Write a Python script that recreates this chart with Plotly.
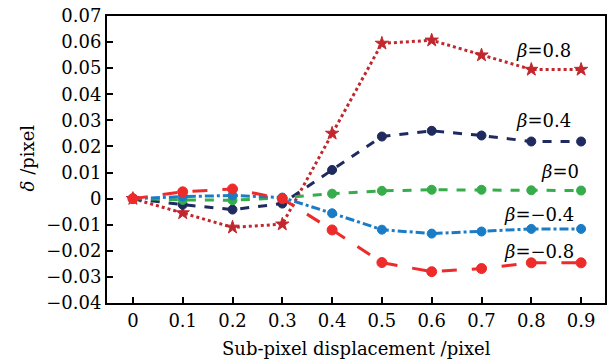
import plotly.graph_objects as go

x = [0, 0.1, 0.2, 0.3, 0.4, 0.5, 0.6, 0.7, 0.8, 0.9]
b_p08 = [0, -0.0055, -0.011, -0.0098, 0.025, 0.0595, 0.0607, 0.0550, 0.0495, 0.0495]
b_p04 = [0, -0.0023, -0.0042, -0.0019, 0.011, 0.0238, 0.0260, 0.0242, 0.0219, 0.0219]
b_0 = [0, -0.0005, -0.0006, 0.0003, 0.0019, 0.0030, 0.0034, 0.0034, 0.0032, 0.0031]
b_m04 = [0, 0.0008, 0.0012, 0.0004, -0.0056, -0.0119, -0.0134, -0.0126, -0.0116, -0.0116]
b_m08 = [0, 0.0026, 0.0037, 0.0000, -0.0120, -0.0245, -0.0280, -0.0268, -0.0246, -0.0246]

labels = ["β=0.8", "β=0.4", "β=0", "β=−0.4", "β=−0.8"]
label_pos = [(0.825, 0.0568), (0.825, 0.0298), (0.857, 0.0104), (0.815, -0.0062), (0.815, -0.0202)]

x_title = "Sub-pixel displacement /pixel"
y_title = "<i>δ</i> /pixel"

series = [
    (b_p08, "#c1272d", "dot", "star", 10),
    (b_p04, "#1f2a5e", "dash", "circle", 9),
    (b_0, "#35ad4b", "dash", "circle", 9),
    (b_m04, "#1b7cc6", "dashdot", "circle", 9),
    (b_m08, "#ee2b2b", "longdash", "circle", 10),
]

fig = go.Figure()
for (vals, col, dash, sym, ms), name in zip(series, labels):
    fig.add_trace(go.Scatter(
        x=x, y=vals, mode="lines+markers", name=name,
        line=dict(color=col, width=3, dash=dash),
        marker=dict(color=col, symbol=sym, size=ms, line=dict(color=col, width=1)),
        showlegend=False,
    ))

for name, (ax, ay) in zip(labels, label_pos):
    t = name.replace("β", "<i>β</i>")
    fig.add_annotation(x=ax, y=ay, text=t, showarrow=False,
                       font=dict(family="DejaVu Serif", size=18, color="black"))

# axis titles
fig.add_annotation(xref="paper", yref="paper", x=0.5, y=-0.157,
                   xanchor="center", yanchor="middle", text=x_title,
                   showarrow=False, font=dict(size=18))
fig.add_annotation(xref="paper", yref="paper", x=-0.16, y=0.505,
                   xanchor="center", yanchor="middle", text=y_title,
                   textangle=-90, showarrow=False, font=dict(size=18))

fig.update_layout(
    width=609, height=360,
    margin=dict(l=107, r=2, t=16, b=57),
    paper_bgcolor="white", plot_bgcolor="white",
    font=dict(family="DejaVu Serif", size=18, color="black"),
    xaxis=dict(
        range=[-0.052, 0.948], tickmode="array", tickvals=x,
        ticktext=[str(v) for v in x],
        ticks="inside", ticklen=6, tickwidth=2, tickcolor="black",
        showline=True, linecolor="black", linewidth=2, mirror=True,
        showgrid=False, zeroline=False,
    ),
    yaxis=dict(
        range=[-0.04, 0.07], dtick=0.01, tick0=0,
        ticks="inside", ticklen=6, tickwidth=2, tickcolor="black",
        showline=True, linecolor="black", linewidth=2, mirror=True,
        showgrid=False, zeroline=False,
    ),
)

fig.write_html("out.html")
